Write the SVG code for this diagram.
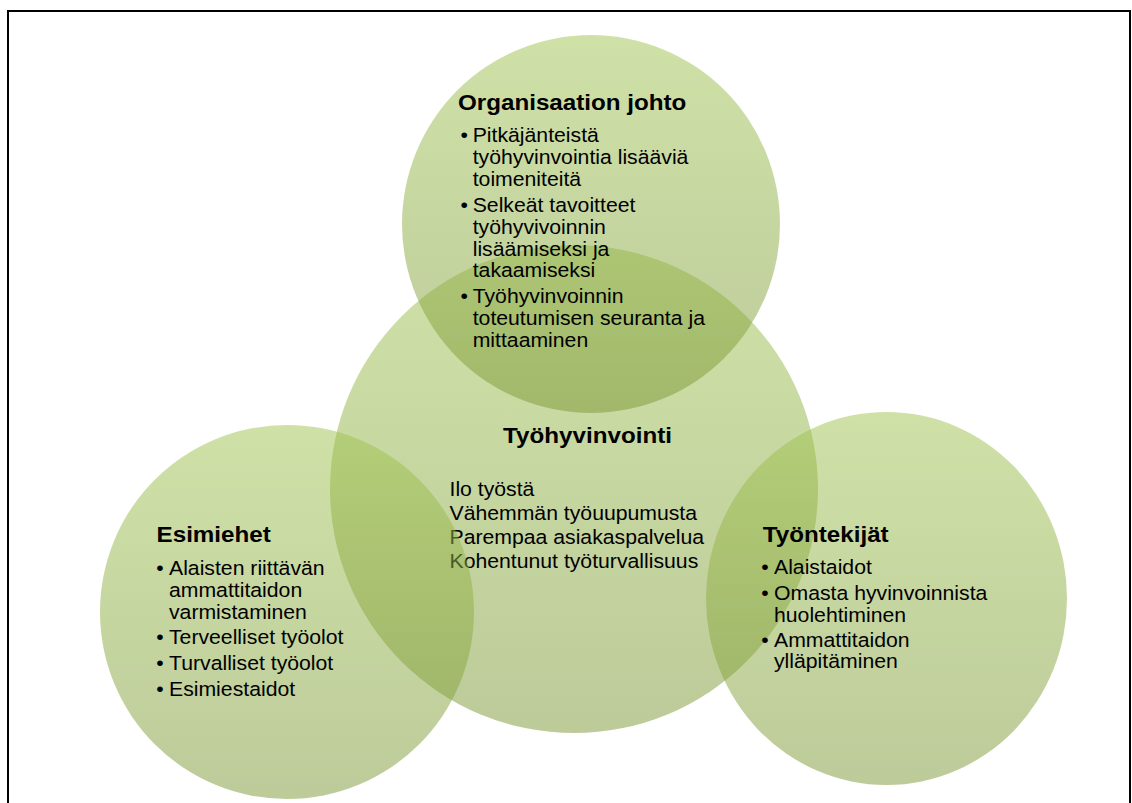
<svg xmlns="http://www.w3.org/2000/svg" width="1132" height="803" viewBox="0 0 1132 803">
<defs>
<linearGradient id="g" x1="0" y1="0" x2="0" y2="1">
<stop offset="0" stop-color="#9fc34f"/>
<stop offset="1" stop-color="#7b9735"/>
</linearGradient>
<style>
.c{fill:url(#g);fill-opacity:0.5}
.t{font-family:"Liberation Sans",Arial,sans-serif;font-size:19.3px;fill:#000}
.h{font-family:"Liberation Sans",Arial,sans-serif;font-size:22px;font-weight:bold;fill:#000}
</style>
</defs>
<rect width="1132" height="803" fill="#fff"/>
<path d="M8,810 V11 H1130 V810" fill="none" stroke="#000" stroke-width="2"/>
<g id="connectors"/>
<g id="node-tyohyvinvointi">
<circle class="c" cx="574" cy="489" r="244"/>
<g transform="translate(449.5 0) scale(1.1 1)">
<text class="h" x="125.5" y="443" text-anchor="middle">Työhyvinvointi</text>
<text class="t" x="0" y="496">Ilo työstä</text>
<text class="t" x="0" y="520">Vähemmän työuupumusta</text>
<text class="t" x="0" y="544">Parempaa asiakaspalvelua</text>
<text class="t" x="0" y="568">Kohentunut työturvallisuus</text>
</g>
</g>
<g id="node-organisaation-johto">
<circle class="c" cx="591" cy="224" r="189"/>
<g transform="translate(472.7 0) scale(1.1 1)">
<text class="h" x="-13.4" y="110">Organisaation johto</text>
<text class="t" x="-11.2" y="142">•</text>
<text class="t" x="0" y="142">Pitkäjänteistä</text>
<text class="t" x="0" y="164">työhyvinvointia lisääviä</text>
<text class="t" x="0" y="186">toimeniteitä</text>
<text class="t" x="-11.2" y="212">•</text>
<text class="t" x="0" y="212">Selkeät tavoitteet</text>
<text class="t" x="0" y="234">työhyvivoinnin</text>
<text class="t" x="0" y="256">lisäämiseksi ja</text>
<text class="t" x="0" y="277">takaamiseksi</text>
<text class="t" x="-11.2" y="303">•</text>
<text class="t" x="0" y="303">Työhyvinvoinnin</text>
<text class="t" x="0" y="325">toteutumisen seuranta ja</text>
<text class="t" x="0" y="347">mittaaminen</text>
</g>
</g>
<g id="node-esimiehet">
<circle class="c" cx="287" cy="612" r="187"/>
<g transform="translate(169 0) scale(1.1 1)">
<text class="h" x="-11.3" y="542">Esimiehet</text>
<text class="t" x="-11.5" y="575">•</text>
<text class="t" x="0" y="575">Alaisten riittävän</text>
<text class="t" x="0" y="597">ammattitaidon</text>
<text class="t" x="0" y="619">varmistaminen</text>
<text class="t" x="-11.5" y="644">•</text>
<text class="t" x="0" y="644">Terveelliset työolot</text>
<text class="t" x="-11.5" y="670">•</text>
<text class="t" x="0" y="670">Turvalliset työolot</text>
<text class="t" x="-11.5" y="696">•</text>
<text class="t" x="0" y="696">Esimiestaidot</text>
</g>
</g>
<g id="node-tyontekijat">
<ellipse class="c" cx="886.5" cy="598.5" rx="180.5" ry="186.5"/>
<g transform="translate(774 0) scale(1.1 1)">
<text class="h" x="-10.2" y="542">Työntekijät</text>
<text class="t" x="-11.5" y="574">•</text>
<text class="t" x="0" y="574">Alaistaidot</text>
<text class="t" x="-11.5" y="600">•</text>
<text class="t" x="0" y="600">Omasta hyvinvoinnista</text>
<text class="t" x="0" y="622">huolehtiminen</text>
<text class="t" x="-11.5" y="647">•</text>
<text class="t" x="0" y="647">Ammattitaidon</text>
<text class="t" x="0" y="668">ylläpitäminen</text>
</g>
</g>
</svg>
